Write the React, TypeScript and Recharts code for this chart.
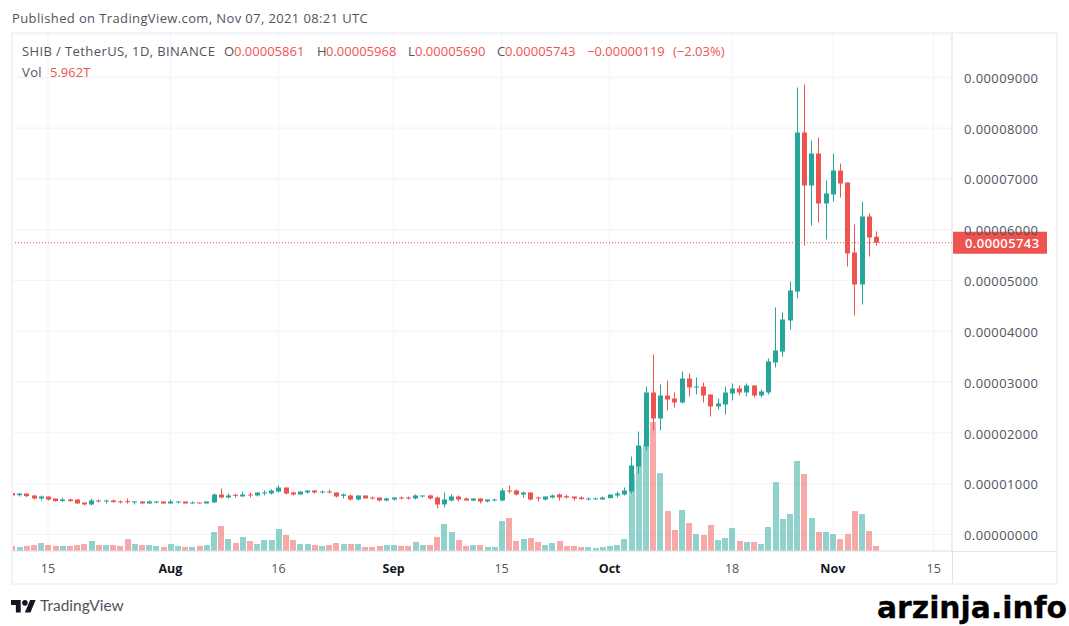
import { Bar, CartesianGrid, ComposedChart, ReferenceLine, XAxis, YAxis } from "recharts";

// prices are stored in units of 0.00000001 USDT, one candle per day from Jul 10 to Nov 7
const opens = [
  814, 774, 807, 768, 709, 748, 709, 656, 689, 689, 630, 591, 669, 650, 669, 650, 656, 630, 650, 610, 630, 650,
  610, 630, 650, 617, 630, 610, 630, 787, 728, 781, 748, 787, 768, 807, 807, 846, 925, 827, 787, 827, 866, 827, 846,
  827, 761, 768, 689, 768, 728, 728, 669, 689, 728, 728, 709, 748, 768, 728, 591, 669, 748, 709, 669, 709, 650, 669,
  669, 866, 866, 787, 827, 728, 689, 728, 787, 755, 748, 728, 689, 696, 689, 715, 768, 787, 846, 1339, 1732, 2795,
  2283, 2736, 2677, 2598, 3071, 2894, 2913, 2756, 2520, 2559, 2776, 2874, 2795, 2933, 2736, 2795, 3386, 3600, 4213,
  4783, 7913, 6870, 7500, 6516, 6693, 7165, 6929, 5551, 4921, 6260, 5861,
];
const highs = [
  833, 807, 807, 768, 768, 748, 709, 728, 709, 689, 630, 709, 689, 689, 689, 669, 709, 650, 650, 669, 650, 650,
  689, 650, 650, 650, 630, 650, 807, 906, 807, 807, 846, 827, 827, 866, 886, 965, 925, 846, 846, 866, 866, 866, 886,
  827, 807, 787, 768, 768, 748, 728, 728, 728, 748, 748, 787, 768, 787, 748, 827, 787, 768, 728, 709, 709, 689, 709,
  906, 965, 886, 846, 827, 748, 748, 787, 807, 787, 748, 748, 728, 728, 748, 787, 846, 925, 1535, 2028, 2913, 3543,
  2953, 3031, 2795, 3209, 3169, 3091, 2992, 2756, 2677, 2913, 2972, 2933, 2972, 2933, 2854, 3465, 4469, 4370, 4980,
  8799, 8858, 7756, 7815, 6969, 7500, 7303, 6930, 6102, 6555, 6319, 5968,
];
const lows = [
  755, 748, 735, 689, 669, 669, 650, 650, 650, 610, 571, 571, 630, 610, 630, 610, 610, 591, 610, 610, 610, 610,
  610, 610, 610, 610, 617, 610, 630, 709, 709, 728, 748, 728, 748, 768, 787, 827, 787, 768, 787, 807, 807, 807, 807,
  728, 709, 669, 669, 709, 689, 650, 650, 669, 689, 689, 689, 728, 689, 512, 531, 650, 650, 669, 650, 610, 630, 650,
  650, 807, 768, 728, 669, 650, 669, 709, 669, 709, 669, 689, 669, 689, 689, 715, 728, 768, 807, 1201, 1654, 2047,
  2047, 2441, 2500, 2579, 2717, 2756, 2598, 2323, 2461, 2362, 2638, 2736, 2717, 2697, 2697, 2756, 3287, 3500, 4030,
  4646, 5689, 6083, 6142, 5807, 6555, 6634, 5276, 4311, 4528, 5472, 5690,
];
const closes = [
  768, 807, 755, 709, 748, 689, 656, 689, 656, 610, 591, 669, 650, 669, 636, 636, 636, 650, 610, 650, 650, 610,
  650, 650, 610, 630, 617, 650, 787, 728, 768, 768, 787, 774, 827, 827, 866, 925, 807, 787, 846, 866, 827, 846, 827,
  748, 787, 689, 768, 709, 709, 669, 709, 728, 709, 709, 768, 768, 709, 591, 689, 748, 689, 669, 709, 650, 689, 689,
  866, 846, 787, 827, 689, 709, 748, 768, 728, 728, 709, 696, 709, 709, 728, 787, 807, 866, 1358, 1752, 2795, 2283,
  2736, 2657, 2598, 3071, 2894, 2913, 2736, 2520, 2579, 2795, 2874, 2795, 2933, 2736, 2815, 3406, 3622, 4232, 4803,
  7913, 6870, 7500, 6516, 6713, 7165, 6909, 5531, 4921, 6260, 5846, 5743,
];
// daily volume in trillions
const volumes = [
  6, 4.8, 6, 7.1, 9.5, 7.1, 6, 6, 6, 7.1, 8.3, 11.9, 7.1, 7.1, 7.1, 6, 14.3, 8.3, 7.1, 7.1, 6, 4.8,
  8.3, 6, 4.8, 4.8, 6, 7.1, 22.6, 29.8, 14.3, 9.5, 16.7, 11.9, 8.3, 13.1, 13.1, 26.2, 19.1, 13.1, 8.3, 8.3, 7.1, 6, 7.1,
  9.5, 8.3, 8.3, 8.3, 4.8, 4.8, 6, 7.1, 7.1, 6, 6, 10.7, 7.1, 7.1, 16.7, 32.2, 22.6, 13.1, 6, 7.1, 7.1, 4.8, 4.8,
  35.7, 39.3, 11.9, 14.3, 15.5, 10.7, 7.1, 9.5, 11.9, 6, 6, 4.8, 4.8, 3.6, 4.8, 6, 7.1, 14.3, 91.7, 123.9, 127.4, 153.6,
  92.9, 47.6, 25, 48.8, 33.3, 20.2, 19.1, 31, 13.1, 15.5, 27.4, 11.9, 10.7, 10.7, 8.3, 28.6, 82.2, 38.1, 44.1,
  107.2, 91.7, 39.3, 22.6, 22.6, 20.2, 14.3, 20.2, 47.6, 44.1, 23.8, 5.962,
];

const dayTicks = [5, 22, 37, 53, 68, 83, 100, 114, 128];
const dayLabels = ["15", "Aug", "16", "Sep", "15", "Oct", "18", "Nov", "15"];
const monthLabels = ["Aug", "Sep", "Oct", "Nov"];
const priceTicks = [0, 1000, 2000, 3000, 4000, 5000, 6000, 7000, 8000, 9000];
const lastPrice = 5743;

const GREEN = "#26a69a";
const RED = "#ef5350";
const FONT = "'Open Sans', sans-serif";

const candles = opens.map((open, i) => ({
  day: i,
  open,
  close: closes[i],
  high: highs[i],
  low: lows[i],
  range: [lows[i], highs[i]],
  volume: volumes[i],
}));

const formatPrice = (v: number) => (v / 1e8).toFixed(8);

function CandleShape({ x, y, width, height, payload }: any) {
  const { open, close, high, low } = payload;
  const perUnit = height / (high - low || 1);
  const cx = Math.round(x + width / 2);
  const bodyTop = y + (high - Math.max(open, close)) * perUnit;
  const bodyH = Math.max(Math.abs(open - close) * perUnit, 1);
  const color = close >= open ? GREEN : RED;
  return (
    <g fill={color}>
      <rect x={cx} y={y} width={1} height={Math.max(height, 1)} />
      <rect x={cx - 2} y={bodyTop} width={5} height={bodyH} />
    </g>
  );
}

function VolumeShape({ x, y, width, height, payload }: any) {
  const color = payload.close >= payload.open ? GREEN : RED;
  return <rect x={Math.round(x)} y={y} width={width} height={height} fill={color} fillOpacity={0.5} />;
}

function DayTick({ x, y, payload }: any) {
  const label = dayLabels[dayTicks.indexOf(payload.value)];
  const month = monthLabels.includes(label);
  return (
    <text
      x={x}
      y={y + 14}
      textAnchor="middle"
      fontFamily={FONT}
      fontSize={12.5}
      fontWeight={month ? 700 : 400}
      fill={month ? "#131722" : "#50535e"}
    >
      {label}
    </text>
  );
}

function PriceTag({ viewBox }: any) {
  const left = viewBox.x + viewBox.width + 1;
  const mid = viewBox.y;
  return (
    <g>
      <rect x={left} y={mid - 11} width={94} height={22} fill={RED} />
      <text
        x={left + 12}
        y={mid + 5}
        fontFamily={FONT}
        fontSize={13}
        fontWeight={600}
        letterSpacing={0.4}
        fill="#fff"
      >
        {formatPrice(lastPrice)}
      </text>
    </g>
  );
}

const legendParts = [
  { left: 22, text: "SHIB / TetherUS, 1D, BINANCE", color: "#50535e", spacing: 0.4 },
  { left: 224, text: "O", color: "#50535e", spacing: 0 },
  { left: 234, text: "0.00005861", color: RED, spacing: 0 },
  { left: 317, text: "H", color: "#50535e", spacing: 0 },
  { left: 326, text: "0.00005968", color: RED, spacing: 0 },
  { left: 408, text: "L", color: "#50535e", spacing: 0 },
  { left: 415, text: "0.00005690", color: RED, spacing: 0 },
  { left: 497, text: "C", color: "#50535e", spacing: 0 },
  { left: 505, text: "0.00005743", color: RED, spacing: 0 },
  { left: 587, text: "−0.00000119", color: RED, spacing: 0 },
  { left: 673, text: "(−2.03%)", color: RED, spacing: 0 },
];

function Label({
  left,
  top,
  color,
  text,
  spacing = 0,
}: {
  left: number;
  top: number;
  color: string;
  text: string;
  spacing?: number;
}) {
  return (
    <div
      style={{
        position: "absolute",
        left,
        top,
        color,
        fontFamily: FONT,
        fontSize: 13,
        lineHeight: "18px",
        letterSpacing: spacing,
        whiteSpace: "nowrap",
      }}
    >
      {text}
    </div>
  );
}

export default function App() {
  return (
    <div style={{ position: "absolute", left: 0, top: 0, width: 1069, height: 626, background: "#fff", overflow: "hidden" }}>
      <div style={{ position: "absolute", left: 12, top: 34 }}>
        <ComposedChart
          width={1045}
          height={549}
          data={candles}
          margin={{ top: 0, right: 0, bottom: 0, left: 0 }}
        >
          <CartesianGrid stroke="#f0f3fa" strokeWidth={1} />
          <XAxis
            dataKey="day"
            type="number"
            domain={[0, 130.55]}
            ticks={dayTicks}
            height={32}
            tick={<DayTick />}
            tickLine={false}
            axisLine={{ stroke: "#e0e3eb" }}
            allowDataOverflow
            interval={0}
          />
          <XAxis xAxisId="vol" dataKey="day" type="number" domain={[0, 130.55]} hide allowDataOverflow />
          <YAxis
            orientation="right"
            width={105}
            domain={[-325, 9852]}
            ticks={priceTicks}
            tickFormatter={formatPrice}
            tick={{ fontSize: 13, fill: "#50535e", fontFamily: FONT, textAnchor: "start", letterSpacing: 0.4, dy: 1 }}
            tickLine={false}
            tickMargin={6}
            axisLine={{ stroke: "#e0e3eb" }}
            allowDataOverflow
            interval={0}
          />
          <YAxis yAxisId="vol" hide domain={[0, 616]} allowDataOverflow />
          <Bar
            xAxisId="vol"
            yAxisId="vol"
            dataKey="volume"
            barSize={6}
            shape={<VolumeShape />}
            isAnimationActive={false}
          />
          <Bar dataKey="range" barSize={5} shape={<CandleShape />} isAnimationActive={false} />
          <ReferenceLine y={lastPrice} stroke={RED} strokeDasharray="1 2" label={<PriceTag />} />
        </ComposedChart>
      </div>

      {/* clips the first candle at the frame and draws the frame itself */}
      <div style={{ position: "absolute", left: 0, top: 34, width: 11, height: 517, background: "#fff" }} />
      <div
        style={{
          position: "absolute",
          left: 11,
          top: 32,
          width: 1043,
          height: 549,
          border: "2px solid #f0f3fa",
        }}
      />
      {/* axis lines carry on across the corner below the price scale */}
      <div style={{ position: "absolute", left: 952, top: 551, width: 1, height: 32, background: "#e0e3eb" }} />
      <div style={{ position: "absolute", left: 952, top: 551, width: 104, height: 1, background: "#e0e3eb" }} />

      <Label left={12} top={9} color="#50535e" spacing={0.38} text="Published on TradingView.com, Nov 07, 2021 08:21 UTC" />
      {legendParts.map((p) => (
        <Label key={p.left} left={p.left} top={42} color={p.color} spacing={p.spacing} text={p.text} />
      ))}
      <Label left={22} top={63} color="#50535e" spacing={0.4} text="Vol" />
      <Label left={50} top={63} color={RED} text="5.962T" />

      <svg style={{ position: "absolute", left: 11, top: 597 }} width={25} height={18} viewBox="0 0 36 25">
        <path d="M14 22H7V11H0V4h14v18zM28 22h-8l7.5-18h8L28 22z" fill="#131722" />
        <circle cx={20} cy={8} r={4} fill="#131722" />
      </svg>
      <div
        style={{
          position: "absolute",
          left: 40,
          top: 595,
          color: "#50535e",
          fontFamily: "Lato, sans-serif",
          fontSize: 15.5,
          lineHeight: "20px",
        }}
      >
        TradingView
      </div>
      <div
        style={{
          position: "absolute",
          left: 877,
          top: 590,
          color: "#000",
          fontFamily: "'DejaVu Sans', sans-serif",
          fontWeight: 700,
          fontSize: 29.8,
          lineHeight: "36px",
          WebkitTextStroke: "0.3px #000",
          whiteSpace: "nowrap",
        }}
      >
        arzinja.info
      </div>
    </div>
  );
}
